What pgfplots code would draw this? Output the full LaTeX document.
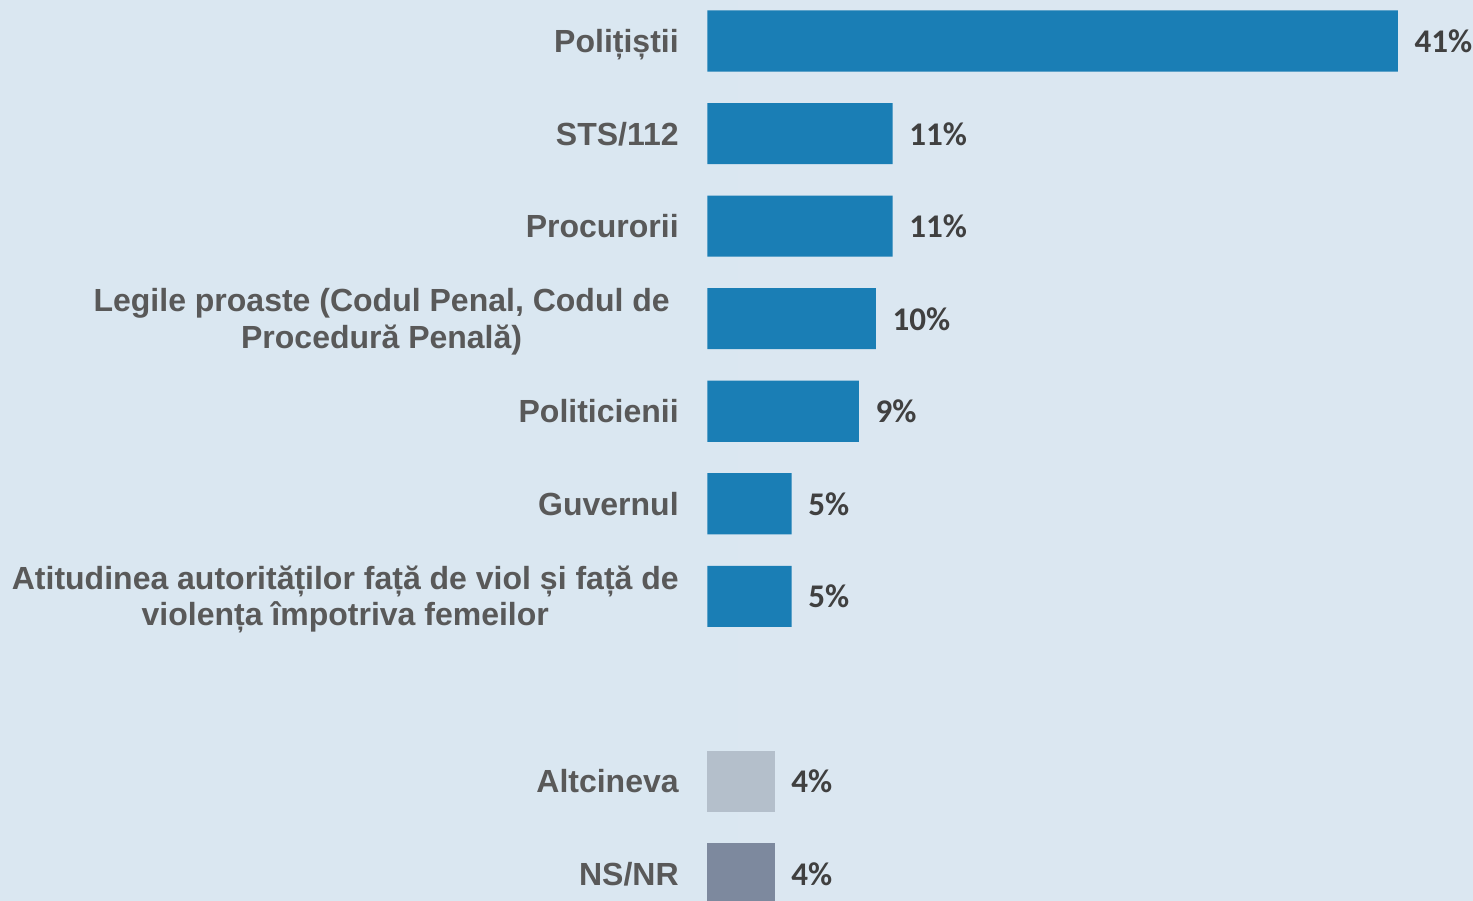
\documentclass[border=0pt]{standalone}
\usepackage{pgfplots}
\pgfplotsset{compat=1.18}
\usepackage{fontspec}
\newfontfamily\labfont{Liberation Sans}
\newfontfamily\valfont{Carlito}
\definecolor{barblue}{RGB}{26,126,181}
\definecolor{altgray}{RGB}{180,191,203}
\definecolor{nsgray}{RGB}{125,137,158}
\definecolor{labgray}{RGB}{89,89,89}
\definecolor{valgray}{RGB}{64,64,64}
\definecolor{bgL}{RGB}{218,231,241}
\definecolor{bgM}{RGB}{238,243,249}
\definecolor{bgR}{RGB}{219,231,241}
\begin{document}
\begin{tikzpicture}[x=0.01cm,y=0.01cm]
\shade[left color=bgL, middle color=bgM, right color=bgR] (0,0) rectangle (1473,900);
\begin{axis}[
  at={(0,0)}, anchor=south west,
  width=14.73cm, height=9cm, scale only axis,
  xmin=-42.011, xmax=45.517, ymin=-0.4486, ymax=9.2811,
  y dir=reverse, axis lines=none,
  xbar, bar width=0.66,
  /pgf/number format/assume math mode=true,
  nodes near coords={\pgfmathprintnumber{\pgfplotspointmeta}\%},
  every node near coord/.append style={anchor=base west, inner sep=0pt, xshift=0.16cm, yshift=-0.115cm,
    font=\valfont\bfseries\fontsize{9.4pt}{11pt}\selectfont, text=valgray},
  point meta=x,
]
\addplot[fill=barblue, draw=none, bar shift=0pt] coordinates {
 (41,0) (11,1) (11,2) (10,3) (9,4) (5,5) (5,6)};
\addplot[fill=altgray, draw=none, bar shift=0pt] coordinates {(4,8)};
\addplot[fill=nsgray, draw=none, bar shift=0pt] coordinates {(4,9)};
\begin{scope}[every node/.style={anchor=base east, align=center, inner sep=0pt, text=labgray, yshift=-0.115cm,
   font=\labfont\bfseries\fontsize{9.1pt}{10.3pt}\selectfont}]
\node at (axis cs:-1.664,0) {Polițiștii};
\node at (axis cs:-1.664,1) {STS/112};
\node at (axis cs:-1.664,2) {Procurorii};
\node at (axis cs:-1.664,4) {Politicienii};
\node at (axis cs:-1.664,5) {Guvernul};
\node at (axis cs:-1.664,8) {Altcineva};
\node at (axis cs:-1.664,9) {NS/NR};
\end{scope}
\begin{scope}[every node/.style={anchor=east, align=center, inner sep=0pt, text=labgray, yshift=-0.03cm,
   font=\labfont\bfseries\fontsize{9.1pt}{10.3pt}\selectfont}]
\node at (axis cs:-2.199,3) {Legile proaste (Codul Penal, Codul de\\Procedură Penală)};
\node at (axis cs:-1.664,6) {Atitudinea autorităților față de viol și față de\\violența împotriva femeilor};
\end{scope}
\end{axis}
\end{tikzpicture}
\end{document}
